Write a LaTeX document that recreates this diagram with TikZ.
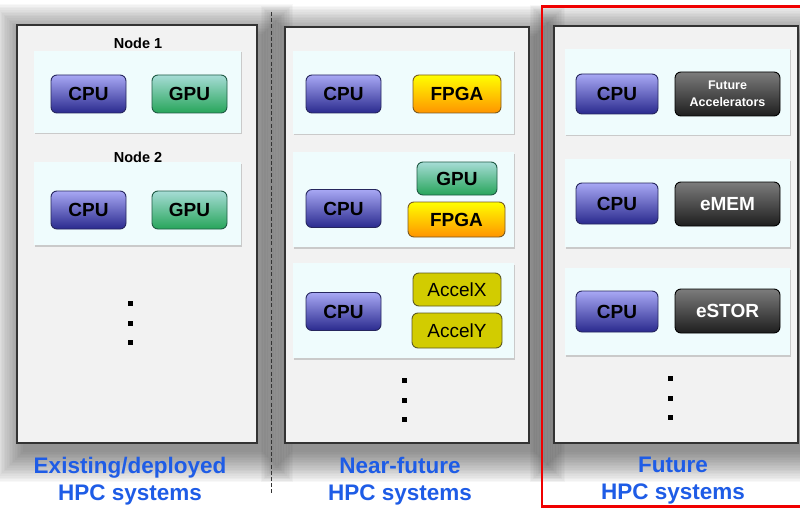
\documentclass[tikz,border=0pt]{standalone}
\usepackage{fontspec}
\setmainfont{Liberation Sans}
\usetikzlibrary{shadows}
\definecolor{panelfill}{HTML}{F2F2F2}
\definecolor{panelline}{HTML}{333333}
\definecolor{nodefill}{HTML}{EFFCFD}
\definecolor{cputop}{HTML}{A8A8F4}
\definecolor{cpubot}{HTML}{2A2A8E}
\definecolor{cpuline}{HTML}{26265E}
\definecolor{gputop}{HTML}{A6DCD6}
\definecolor{gpubot}{HTML}{27A55A}
\definecolor{gpuline}{HTML}{1F5A44}
\definecolor{fpgatop}{HTML}{FFFF00}
\definecolor{fpgabot}{HTML}{FF9400}
\definecolor{fpgaline}{HTML}{7A5A20}
\definecolor{accelfill}{HTML}{D2CC00}
\definecolor{accelline}{HTML}{5E5A20}
\definecolor{darktop}{HTML}{7C7C7C}
\definecolor{darkbot}{HTML}{1E1E1E}
\definecolor{labelblue}{HTML}{1E5CE6}
\definecolor{framered}{HTML}{F00000}
\tikzset{
  panel/.style={draw=panelline, line width=1.1pt, fill=panelfill},
  nodebox/.style={fill=nodefill, drop shadow={shadow xshift=1pt, shadow yshift=-1.5pt, opacity=0.35}},
  chip/.style={rectangle, rounded corners=6pt, line width=0.9pt, inner sep=0pt,
    font=\fontsize{19}{21}\selectfont\bfseries, text=black},
  cpu/.style={chip, draw=cpuline, top color=cputop, bottom color=cpubot,
    minimum width=75pt, minimum height=38pt},
  gpu/.style={chip, draw=gpuline, top color=gputop, bottom color=gpubot},
  fpga/.style={chip, draw=fpgaline, top color=fpgatop, bottom color=fpgabot},
  accel/.style={chip, draw=accelline, fill=accelfill, font=\fontsize{19}{21}\selectfont},
  darkchip/.style={chip, draw=black, top color=darktop, bottom color=darkbot, text=white,
    minimum width=105pt, minimum height=44pt},
  nodelabel/.style={font=\fontsize{14.5}{16}\selectfont\bfseries, inner sep=0pt},
  syslabel/.style={font=\fontsize{22.5}{27}\selectfont\bfseries, text=labelblue,
    align=center, inner sep=0pt},
  dot/.style={rectangle, fill=black, minimum size=5pt, inner sep=0pt},
}
\begin{document}
\begin{tikzpicture}[x=1pt, y=-1pt]
\useasboundingbox (0,0) rectangle (800,508);

% soft drop shadows behind the three panels
\foreach \l/\t/\r/\b in {17/25/257/443, 285/27/529/443, 554/26/798/443}{
  \foreach \i in {0,...,19}{
    \fill[black, opacity=0.027]
      (\l+6-1.6*\i, \t+9-1.6*\i) rectangle (\r+6+1.6*\i, \b+9+1.6*\i);
  }
}

% panels
\draw[panel] (17,25) rectangle (257,443);
\draw[panel] (285,27) rectangle (529,443);
\draw[panel] (554,26) rectangle (798,443);

% separator between existing and near-future systems
\coordinate (septop) at (271,12);
\coordinate (sepbot) at (271,495);
\draw[panelline, line width=0.9pt, dash pattern=on 4pt off 2.2pt] (septop) -- (sepbot);

% ---- existing / deployed systems
\fill[nodebox] (34,51) rectangle (241,133);
\fill[nodebox] (34,162) rectangle (241,245);
\node[nodelabel] (n1lbl) at (138,43) {Node 1};
\node[nodelabel] (n2lbl) at (138,157) {Node 2};
\node[cpu] (a1cpu) at (88.5,94) {CPU};
\node[gpu, minimum width=75pt, minimum height=38pt] (a1gpu) at (189.5,94) {GPU};
\node[cpu] (a2cpu) at (88.5,210) {CPU};
\node[gpu, minimum width=75pt, minimum height=38pt] (a2gpu) at (189.5,210) {GPU};
\node[dot] (ad1) at (130,303) {};
\node[dot] (ad2) at (130,323) {};
\node[dot] (ad3) at (130,342) {};
\node[syslabel] (alabel) at (130,481) {Existing/deployed\\HPC systems};

% ---- near-future systems
\fill[nodebox] (293,51) rectangle (514,134);
\fill[nodebox] (293,152) rectangle (514,247);
\fill[nodebox] (293,263) rectangle (514,358);
\node[cpu] (b1cpu) at (343.5,94) {CPU};
\node[fpga, minimum width=88pt, minimum height=38pt] (b1fpga) at (457,94) {FPGA};
\node[cpu] (b2cpu) at (343.5,208.5) {CPU};
\node[gpu, minimum width=80pt, minimum height=33pt] (b2gpu) at (457,178.5) {GPU};
\node[fpga, minimum width=97pt, minimum height=35pt] (b2fpga) at (456.5,219.5) {FPGA};
\node[cpu] (b3cpu) at (343.5,311.5) {CPU};
\node[accel, minimum width=88pt, minimum height=33pt] (b3x) at (457,289.5) {AccelX};
\node[accel, minimum width=90pt, minimum height=35pt] (b3y) at (457,330.5) {AccelY};
\node[dot] (bd1) at (404,380) {};
\node[dot] (bd2) at (404,400) {};
\node[dot] (bd3) at (404,419) {};
\node[syslabel] (blabel) at (400,481) {Near-future\\HPC systems};

% ---- future systems
\fill[nodebox] (565,49) rectangle (790,135);
\fill[nodebox] (565,159) rectangle (790,247);
\fill[nodebox] (565,268) rectangle (790,355);
\node[cpu, minimum width=82pt, minimum height=40pt] (c1cpu) at (617,94) {CPU};
\node[darkchip, align=center, font=\fontsize{12.5}{16.5}\selectfont\bfseries] (c1acc) at (727.5,94) {Future\\Accelerators};
\node[cpu, minimum width=82pt, minimum height=41pt] (c2cpu) at (617,203.5) {CPU};
\node[darkchip] (c2mem) at (727.5,204) {eMEM};
\node[cpu, minimum width=82pt, minimum height=41pt] (c3cpu) at (617,311.5) {CPU};
\node[darkchip] (c3stor) at (727.5,311) {eSTOR};
\node[dot] (cd1) at (670,378) {};
\node[dot] (cd2) at (670,398) {};
\node[dot] (cd3) at (670,417) {};
\node[syslabel] (clabel) at (673,481) {Future\\HPC systems};

% highlight frame around the future column
\draw[framered, line width=2.6pt] (542,6.5) rectangle (801,506.5);
\end{tikzpicture}
\end{document}
